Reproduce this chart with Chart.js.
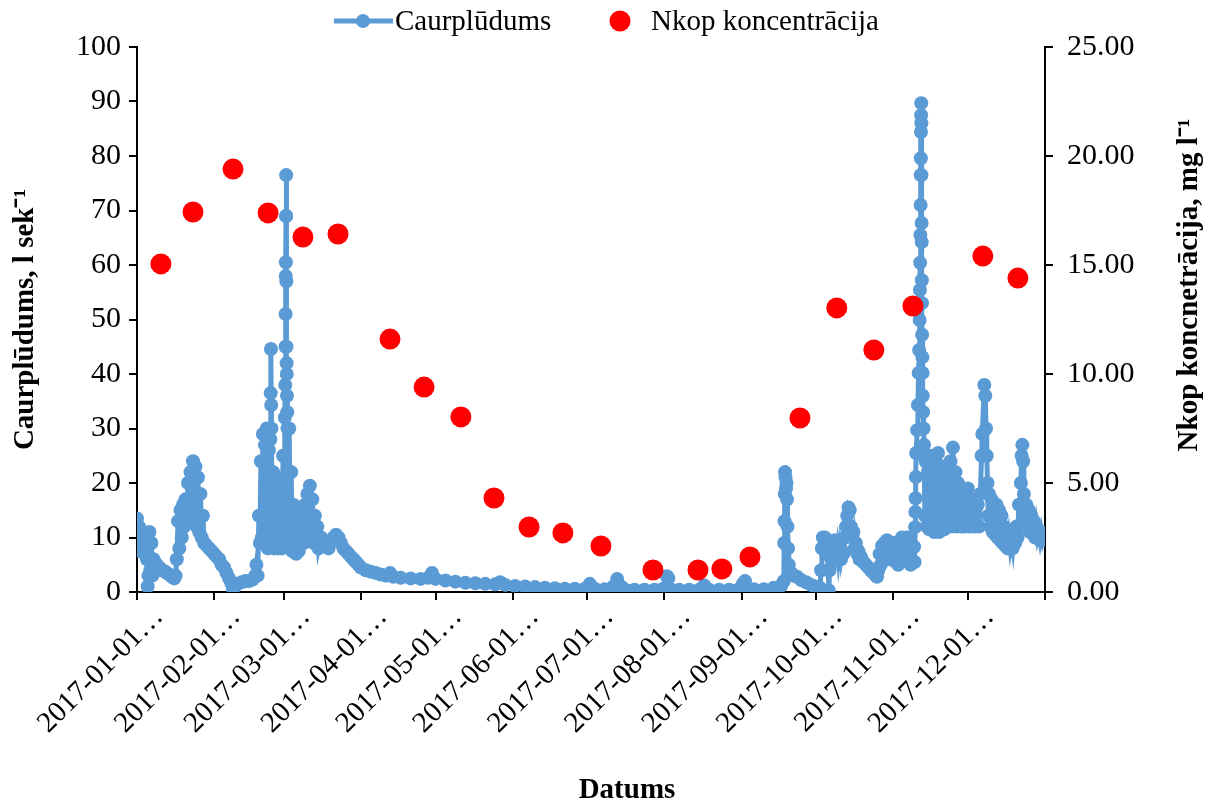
<!DOCTYPE html>
<html>
<head>
<meta charset="utf-8">
<title>Caurplūdums un Nkop koncentrācija</title>
<script src="https://cdn.jsdelivr.net/npm/chart.js@4.4.0/dist/chart.umd.min.js"></script>
<style>
  html, body { margin: 0; padding: 0; background: #fff; }
  #wrap { width: 1219px; height: 807px; }
</style>
</head>
<body>
<div id="wrap"><canvas id="chart" width="1219" height="807"></canvas></div>
<script>
// x axis: day of year 2017 (0 = 1 Jan)
const monthStarts = [0, 31, 59, 90, 120, 151, 181, 212, 243, 273, 304, 334];
const monthLabels = ['2017-01-01…', '2017-02-01…', '2017-03-01…', '2017-04-01…', '2017-05-01…', '2017-06-01…',
  '2017-07-01…', '2017-08-01…', '2017-09-01…', '2017-10-01…', '2017-11-01…', '2017-12-01…'];

// Caurplūdums (l/s)
const flowDay = [
  // January
  0, 0.4, 0.8, 1.2, 1.6, 2, 2.4, 2.8, 3.2, 3.6, 4, 4.3, 4.6, 5, 5.4, 5.8, 6.2, 6.6, 7, 8, 9, 10, 11, 12, 13, 14, 15,
  15.5, 16, 16.5, 17, 17.5, 18, 18.5, 19, 19.5, 20, 20.5, 21, 21.5, 22, 22.5, 23, 23.5, 24, 24.5, 25, 25.5, 26, 26.5,
  27, 28, 29, 30, 31, 32, 33, 34, 35, 36, 37, 38, 38.6, 39.5, 40.5, 42, 43.5, 45, 46.5, 47.5, 48,
  // February - March
  48.5, 49, 49.4, 49.8, 50.2, 50.6, 51, 51.4, 51.8, 52.2, 52.6, 53, 53.3, 53.6, 53.75, 53.85, 53.95, 54.05,
  54.3, 54.7, 55.1, 55.5, 55.9, 56.3, 56.7, 57.1, 57.5, 57.9, 58.3, 58.7, 59.1, 59.4,
  59.6, 59.7, 59.75, 59.8, 59.85, 59.9, 59.95, 60, 60.05, 60.1, 60.15, 60.2, 60.3, 60.4, 60.5,
  60.8, 61.2, 61.6, 62, 62.4, 62.8, 63.2, 63.6, 64, 64.5, 65, 65.5, 66, 66.5, 67, 67.5, 68, 68.5, 69, 69.5,
  70, 70.5, 71, 71.5, 72, 72.5, 73, 74, 75, 76, 77, 78, 79, 80, 81, 82, 83, 84, 85, 86, 87, 88, 89, 90,
  // April - August
  92, 94, 96, 98, 100, 101.7, 103, 106, 110, 114, 117, 118.6, 120, 124, 128, 132, 136, 140, 144, 146, 148,
  152, 156, 160, 164, 168, 172, 176, 180, 182, 184, 188, 191.5, 193, 194.5, 196, 200, 204, 208, 211.5, 213, 213.6,
  214.5, 218, 222, 226, 228, 230, 234, 238, 242, 243.5, 244.4, 245.5, 248, 252, 256, 259,
  // September - October
  260, 260.15, 260.3, 260.4, 260.5, 260.7, 260.9, 261.1, 261.3, 261.5, 261.7, 262, 263, 264, 265.3, 267, 269,
  271, 272.5, 273.5, 274.5, 275, 275.3, 275.7, 276.1, 276.5, 277, 277.5, 277.9, 278.1, 278.4, 278.8, 279.2,
  279.6, 280, 280.5, 281, 281.5, 282, 282.5, 283, 283.5, 284, 284.6, 285, 285.5, 286, 286.5, 287, 287.5, 288,
  288.5, 289, 289.5, 290, 290.5, 291, 292, 293, 294, 295, 296, 297, 297.5, 298, 298.5, 299, 299.5, 300, 300.5,
  301, 301.5, 302, 302.5, 303, 303.5, 304, 304.5, 305, 305.5, 306, 306.5, 307, 307.5, 308, 308.5, 309, 309.5,
  310, 310.5, 311, 311.5, 312, 312.4,
  // November flood
  312.6, 312.8, 312.9, 313, 313.1, 313.2, 313.6, 313.9, 314.2, 314.4, 314.6, 314.7, 314.8, 314.9, 315, 315.05,
  315.1, 315.15, 315.2, 315.25, 315.3, 315.35, 315.4, 315.45, 315.5, 315.55, 315.6, 315.7, 315.8, 315.9, 316,
  316.2, 316.4, 316.7,
  // November - December
  317, 317.5, 318, 318.5, 319, 319.5, 320, 320.5, 321, 321.5, 322, 322.5, 323, 323.5, 324, 324.5, 325, 325.5,
  326, 326.5, 327, 327.5, 328, 328.5, 329, 329.5, 330, 330.5, 331, 331.5, 332, 332.5, 333, 333.5, 334, 334.5,
  335, 335.5, 336, 336.5, 337, 337.5, 338, 338.5, 339, 339.5, 339.8, 340.6, 341, 341.3, 341.6, 341.9, 342.2,
  342.5, 343, 343.5, 344, 344.5, 345, 345.5, 346, 346.5, 347, 347.5, 348, 348.5, 349, 349.5, 350, 350.5, 351,
  351.5, 352, 352.5, 353, 353.5, 354, 354.5, 355, 355.3, 355.6, 355.9, 356.2, 356.5, 357, 357.5, 358, 358.5,
  359, 359.5, 360, 360.5, 361, 361.5, 362, 362.5, 363, 363.5, 364, 364.5, 365
];
const flowValue = [
  // January
  13.5, 8, 12, 7.5, 11, 8, 10, 7.5, 9, 7.5, 6, 1, 3, 11, 4, 9, 3, 6, 5.5, 5, 4.5, 4, 3.8, 3.5, 3.2, 2.8, 2.5,
  3, 6, 13, 8, 15, 10, 16, 12, 17, 14, 20, 13, 22, 15, 24, 14, 23, 12, 21, 11, 18, 10, 14,
  9, 8.5, 8, 7.5, 7, 6.5, 6, 5, 4.5, 3.5, 2.5, 1.5, 0.5, 1.2, 1.5, 1.8, 2, 2, 2.3, 3, 5,
  // February - March
  3, 14, 9, 24, 10, 29, 9, 27, 12, 30, 8, 26, 10, 28, 36.5, 44.6, 34.3, 30,
  9, 22, 8, 20, 9, 21, 8, 18, 9, 20, 8, 25, 9, 32,
  38, 45, 51, 58, 60.5, 69, 76.5, 69, 57, 45, 42, 40, 36, 33, 30,
  9, 30, 9, 22, 7.5, 16, 8, 15, 7, 14, 7.5, 12, 9, 14, 9, 16, 10, 18, 12, 19.5,
  12, 17, 9, 14, 9, 12, 8, 10, 8.5, 9, 8, 9.5, 10, 10.5, 10, 9, 8, 7.5, 7, 6.5, 6, 5.5, 5, 4.5,
  // April - August
  4, 3.7, 3.5, 3.2, 3, 3.5, 2.8, 2.6, 2.5, 2.4, 2.6, 3.5, 2.4, 2.1, 1.9, 1.7, 1.6, 1.5, 1.4, 1.8, 1.3,
  1.1, 1, 0.9, 0.8, 0.7, 0.6, 0.6, 0.6, 1.5, 0.6, 0.5, 1, 2.4, 1, 0.5, 0.4, 0.4, 0.4, 0.6, 2.9, 2.5,
  0.5, 0.4, 0.4, 0.4, 1.2, 0.4, 0.4, 0.4, 0.5, 1.5, 2, 0.6, 0.5, 0.5, 0.8, 1.2,
  // September - October
  2, 9, 13, 18, 22, 21, 19, 20, 17, 12, 8, 5, 3.5, 3, 2.8, 2.2, 1.8,
  1.3, 1, 0.8, 0.8, 4, 8, 10, 8, 10, 7, 9.5, 4, 0.3, 4, 8, 6,
  9, 7, 9.5, 7, 8.5, 6, 8, 6, 7.5, 7, 10, 12, 14, 15.5, 15, 12, 10, 11,
  8, 9, 7, 7.5, 6, 6.5, 5.5, 5, 4.5, 4, 3.5, 3, 2.8, 4, 7, 5, 8.5, 6, 9,
  6, 9.5, 6.5, 9, 6, 8.5, 6, 9, 5.5, 8, 5, 9, 5.5, 10, 6, 9.5, 6, 10,
  5.5, 9, 5, 8, 5.5, 8.3,
  // November flood
  5.5, 11.9, 14.7, 17.2, 21.1, 25.5, 29.7, 34.3, 40.2, 44.4, 49.9, 55.4, 60.4, 65.5, 71, 76.5,
  79.6, 84.4, 87.5, 89.7, 86, 76.5, 67.7, 64.2, 57.2, 53, 47.2, 43.1, 40.2, 36, 33,
  30, 27, 14,
  // November - December
  24, 12, 22, 11.5, 25, 12, 21, 11, 24, 12, 25.5, 11, 20, 12, 23, 11.5, 18, 12,
  21, 12.5, 24, 12, 26.5, 13, 22, 12, 20, 12.5, 17, 12, 19, 12, 18, 13, 19, 12,
  17, 13, 16, 12, 15, 12.5, 16, 12, 18, 25, 29, 38, 36, 30, 25, 20, 14,
  18, 12, 17, 11, 16, 10.5, 16, 10, 15, 9.5, 14, 9, 12, 8.5, 11, 8, 10, 8,
  9.5, 8, 11, 9, 12, 10, 16, 12, 20, 25, 27, 24, 18, 13, 16, 12, 15,
  11, 14, 11, 13, 10, 12, 10, 11, 9.5, 11, 9.5, 10.5, 10
];

// Nkop koncentrācija (mg/l), sampling days
const nkopDay = [9.6, 22.5, 38.6, 52.7, 66.7, 80.8, 101.7, 115.4, 130.2, 143.5, 157.6, 171.2,
  186.5, 207.4, 225.5, 235.1, 246.4, 266.5, 281.3, 296.2, 311.9, 340, 354.1];
const nkopValue = [15.05, 17.43, 19.4, 17.39, 16.28, 16.42, 11.6, 9.4, 8.03, 4.31, 2.98, 2.71,
  2.11, 1.01, 1.01, 1.06, 1.61, 7.98, 13.03, 11.1, 13.12, 15.41, 14.4];

const blue = '#5B9BD5';
const red = '#FF0000';
const serif = 'Liberation Serif, Times New Roman, serif';

const flowPoints = flowDay.map((d, i) => ({ x: d, y: flowValue[i] }));
const nkopPoints = nkopDay.map((d, i) => ({ x: d, y: nkopValue[i] }));

// legend, x title and right-hand title drawn by hand (Excel style)
const excelExtras = {
  id: 'excelExtras',
  afterDraw(chart) {
    const ctx = chart.ctx;
    ctx.save();
    ctx.font = '29px ' + serif;
    ctx.fillStyle = '#000';
    ctx.textBaseline = 'middle';
    ctx.textAlign = 'left';
    // Caurplūdums
    ctx.strokeStyle = blue;
    ctx.lineWidth = 5;
    ctx.beginPath();
    ctx.moveTo(334, 21);
    ctx.lineTo(393, 21);
    ctx.stroke();
    ctx.fillStyle = blue;
    ctx.beginPath();
    ctx.arc(363, 21, 7, 0, Math.PI * 2);
    ctx.fill();
    ctx.fillStyle = '#000';
    ctx.fillText(chart.data.datasets[0].label, 395, 22);
    // Nkop
    ctx.fillStyle = red;
    ctx.beginPath();
    ctx.arc(620, 21, 10.5, 0, Math.PI * 2);
    ctx.fill();
    ctx.fillStyle = '#000';
    ctx.fillText(chart.data.datasets[1].label, 651, 22);

    // x axis title
    ctx.font = 'bold 29px ' + serif;
    ctx.textAlign = 'center';
    ctx.fillText('Datums', 627, 791);

    // right axis title, reading bottom to top
    ctx.translate(1190, 285);
    ctx.rotate(-Math.PI / 2);
    ctx.fillText('Nkop koncnetrācija, mg l⁻¹', 0, 0);
    ctx.restore();
  }
};

new Chart(document.getElementById('chart').getContext('2d'), {
  type: 'line',
  data: {
    datasets: [
      {
        label: 'Caurplūdums',
        data: flowPoints,
        yAxisID: 'y',
        borderColor: blue,
        backgroundColor: blue,
        borderWidth: 5,
        pointRadius: 7,
        pointBorderWidth: 0,
        pointBackgroundColor: blue,
        tension: 0,
        order: 2
      },
      {
        type: 'scatter',
        label: 'Nkop koncentrācija',
        data: nkopPoints,
        yAxisID: 'y2',
        showLine: false,
        backgroundColor: red,
        borderColor: red,
        pointRadius: 10.5,
        pointBorderWidth: 0,
        order: 1
      }
    ]
  },
  options: {
    responsive: false,
    animation: false,
    layout: { padding: { top: 47 } },
    plugins: {
      legend: { display: false },
      tooltip: { enabled: false }
    },
    scales: {
      x: {
        type: 'linear',
        min: 0,
        max: 365,
        afterBuildTicks: (scale) => {
          scale.ticks = monthStarts.concat([365]).map(v => ({ value: v }));
        },
        afterFit: (scale) => { scale.height = 215; },
        ticks: {
          autoSkip: false,
          minRotation: 45,
          maxRotation: 45,
          labelOffset: 22,
          padding: 0,
          color: '#000',
          font: { family: serif, size: 29 },
          callback: (v) => {
            const i = monthStarts.indexOf(v);
            return i >= 0 ? monthLabels[i] : '';
          }
        },
        grid: { drawOnChartArea: false, color: '#000', tickLength: 8, lineWidth: 2 },
        border: { color: '#000', width: 2 }
      },
      y: {
        position: 'left',
        min: 0,
        max: 100,
        afterFit: (scale) => { scale.width = 137; },
        ticks: {
          stepSize: 10,
          padding: 8,
          color: '#000',
          font: { family: serif, size: 30 }
        },
        grid: { drawOnChartArea: false, color: '#000', tickLength: 8, lineWidth: 2 },
        border: { color: '#000', width: 2 },
        title: {
          display: true,
          text: 'Caurplūdums, l sek⁻¹',
          color: '#000',
          font: { family: serif, size: 29, weight: 'bold' },
          padding: { top: 8, bottom: 0 }
        }
      },
      y2: {
        position: 'right',
        min: 0,
        max: 25,
        afterFit: (scale) => { scale.width = 174; },
        ticks: {
          stepSize: 5,
          padding: 14,
          color: '#000',
          font: { family: serif, size: 30 },
          callback: (v) => v.toFixed(2)
        },
        grid: { drawOnChartArea: false, color: '#000', tickLength: 8, lineWidth: 2 },
        border: { color: '#000', width: 2 }
      }
    }
  },
  plugins: [excelExtras]
});
</script>
</body>
</html>
